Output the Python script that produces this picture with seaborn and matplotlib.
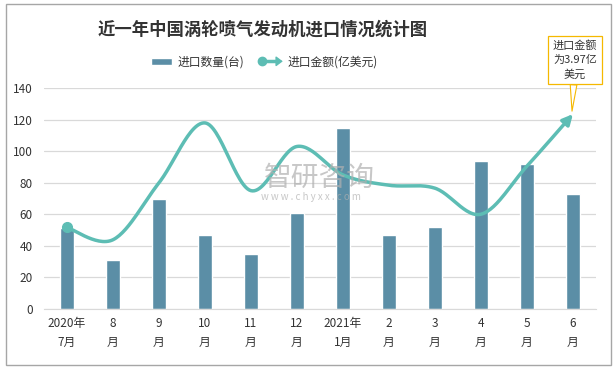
import numpy as np
import matplotlib
matplotlib.use("Agg")
from matplotlib import pyplot as plt
from matplotlib.patches import Patch, Rectangle, FancyArrowPatch
from matplotlib.lines import Line2D
from matplotlib.legend_handler import HandlerBase
import seaborn as sns

months = ['2020年\n7月', '8\n月', '9\n月', '10\n月', '11\n月', '12\n月',
          '2021年\n1月', '2\n月', '3\n月', '4\n月', '5\n月', '6\n月']
qty = [51, 31, 70, 47, 35, 61, 115, 47, 52, 94, 92, 73]          # 进口数量(台)
amount = [1.66, 1.41, 2.57, 3.79, 2.41, 3.31, 2.73, 2.52, 2.46, 1.93, 2.91, 3.97]  # 亿美元

bar_color = '#5b8ea6'
line_color = '#5dbdb4'

sns.set_style('white')
plt.rcParams['font.family'] = ['Noto Sans CJK SC', 'DejaVu Sans']

fig = plt.figure(figsize=(6.15, 3.7), dpi=100)
ax = fig.add_axes([0.0715, 0.165, 0.8975, 0.597])

x = np.arange(len(months))
sns.barplot(x=x, y=qty, color=bar_color, width=0.3, ax=ax, saturation=1)
ax.set_xlim(-0.5, 11.5)
ax.set_ylim(0, 140)
ax.set_yticks(range(0, 141, 20))
ax.yaxis.grid(True, color='#d9d9d9', lw=0.9)
ax.set_axisbelow(True)
for s in ['top', 'right', 'left']:
    ax.spines[s].set_visible(False)
ax.spines['bottom'].set_color('#d9d9d9')
ax.set_xticks(x)
ax.set_xticklabels(months, fontsize=8.5, color='#333333', linespacing=1.6)
ax.tick_params(axis='y', labelsize=8.5, colors='#333333', length=0, pad=8)
ax.tick_params(axis='x', length=0, pad=6)

# 折线（隐藏次坐标轴）
ax2 = ax.twinx()
ax2.set_ylim(0, 4.5)
ax2.axis('off')


def smooth(xs, ys, n=30):
    px, py = [], []
    xs = list(xs); ys = list(ys)
    xe = [xs[0]] + xs + [xs[-1]]
    ye = [ys[0]] + ys + [ys[-1]]
    for i in range(1, len(xe) - 2):
        t = np.linspace(0, 1, n)
        p0, p1, p2, p3 = np.array([xe[i-1], ye[i-1]]), np.array([xe[i], ye[i]]), \
            np.array([xe[i+1], ye[i+1]]), np.array([xe[i+2], ye[i+2]])
        c1 = p1 + (p2 - p0) / 6
        c2 = p2 - (p3 - p1) / 6
        pts = ((1-t)**3)[:, None]*p1 + (3*(1-t)**2*t)[:, None]*c1 + \
            (3*(1-t)*t**2)[:, None]*c2 + (t**3)[:, None]*p2
        px.extend(pts[:, 0]); py.extend(pts[:, 1])
    return np.array(px), np.array(py)


sx, sy = smooth(x, amount)
ax2.plot(sx[:-6], sy[:-6], color=line_color, lw=2.5, solid_capstyle='round')
ax2.annotate('', xy=(sx[-1], sy[-1]), xytext=(sx[-7], sy[-7]),
             arrowprops=dict(arrowstyle='-|>,head_length=0.6,head_width=0.3',
                             color=line_color, lw=2.5, shrinkA=0, shrinkB=0))
ax2.plot(x[0], amount[0], 'o', color=line_color, ms=7)

# 标注框
ax2.annotate('进口金额\n为3.97亿\n美元', xy=(x[-1] - 0.02, amount[-1] + 0.06),
             xycoords='data', xytext=(575 / 615, 1 - 60 / 370), textcoords='figure fraction',
             ha='center', va='center', fontsize=8, color='#333333', linespacing=1.5,
             bbox=dict(boxstyle='square,pad=0.4', fc='white', ec='#f5b800', lw=0.9),
             arrowprops=dict(arrowstyle='wedge,tail_width=0.6,shrink_factor=0.5',
                             fc='white', ec='#f5b800', lw=0.8, shrinkA=0, shrinkB=0))

# 水印
fig.text(0.52, 1 - 178 / 370, '智研咨询', fontsize=20, color='#b0b0b0', alpha=0.7, ha='center', va='center')
fig.text(0.505, 1 - 197 / 370, 'w w w . c h y x x . c o m', fontsize=7, color='#b0b0b0', alpha=0.7,
         ha='center', va='center')


class ArrowLineHandler(HandlerBase):
    def create_artists(self, legend, orig_handle, xdescent, ydescent, width, height,
                       fontsize, trans):
        y = height / 2 - ydescent
        ln = Line2D([0, width - 4], [y, y], color=line_color, lw=2.5, transform=trans)
        dot = Line2D([0], [y], marker='o', color=line_color, ms=6, transform=trans)
        arr = FancyArrowPatch((width - 7, y), (width + 2, y), arrowstyle='-|>,head_length=4,head_width=3',
                              color=line_color, lw=1, transform=trans, mutation_scale=1)
        return [ln, dot, arr]


handles = [Patch(facecolor=bar_color), Line2D([], [])]
fig.legend(handles, ['进口数量(台)', '进口金额(亿美元)'], loc='center', bbox_to_anchor=(0.43, 1 - 62 / 370),
           ncol=2, frameon=False, fontsize=8.5, handlelength=1.8, handleheight=0.55,
           columnspacing=1.5, handletextpad=0.4, labelcolor='#333333',
           handler_map={Line2D: ArrowLineHandler()})

fig.text(0.427, 1 - 30 / 370, '近一年中国涡轮喷气发动机进口情况统计图', fontsize=12.5, fontweight='bold',
         color='#333333', ha='center', va='center')

fig.patches.append(Rectangle((6 / 615, 5 / 370), 605 / 615, 361 / 370, transform=fig.transFigure,
                             fill=False, ec='#a6a6a6', lw=1))

fig.savefig('out.png', dpi=100)
